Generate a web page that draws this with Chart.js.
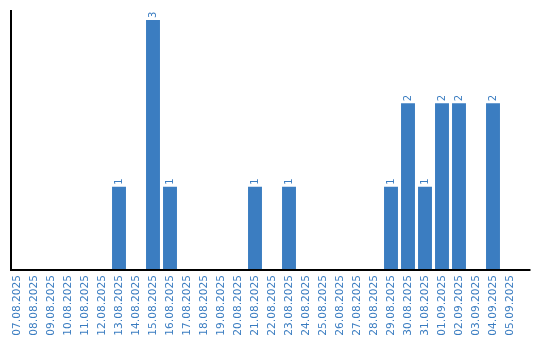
<!DOCTYPE html>
<html>
<head>
<meta charset="utf-8">
<script src="https://cdn.jsdelivr.net/npm/chart.js@4"></script>
<style>
  html, body { margin: 0; padding: 0; background: #fff; }
  #wrap { width: 540px; height: 340px; }
</style>
</head>
<body>
<div id="wrap"><canvas id="chart"></canvas></div>
<script>
let dates = ['07.08.2025', '08.08.2025', '09.08.2025', '10.08.2025', '11.08.2025', '12.08.2025',
  '13.08.2025', '14.08.2025', '15.08.2025', '16.08.2025', '17.08.2025', '18.08.2025',
  '19.08.2025', '20.08.2025', '21.08.2025', '22.08.2025', '23.08.2025', '24.08.2025',
  '25.08.2025', '26.08.2025', '27.08.2025', '28.08.2025', '29.08.2025', '30.08.2025',
  '31.08.2025', '01.09.2025', '02.09.2025', '03.09.2025', '04.09.2025', '05.09.2025'];
let counts = [0, 0, 0, 0, 0, 0,
  1, 0, 3, 1, 0, 0,
  0, 0, 1, 0, 1, 0,
  0, 0, 0, 0, 1, 2,
  1, 2, 2, 0, 2, 0];

let blue = '#3b7dc1';

// vertical value labels over each bar, skip zeros
let valueLabels = {
  id: 'valueLabels',
  afterDatasetsDraw(chart) {
    let ctx = chart.ctx;
    let meta = chart.getDatasetMeta(0);
    ctx.save();
    ctx.fillStyle = blue;
    ctx.font = '10px "DejaVu Sans"';
    ctx.textAlign = 'left';
    ctx.textBaseline = 'middle';
    meta.data.forEach((bar, i) => {
      if (!counts[i]) return;
      ctx.save();
      ctx.translate(bar.x, bar.y - 2);
      ctx.rotate(-Math.PI / 2);
      ctx.fillText(String(counts[i]), 0, 0);
      ctx.restore();
    });
    ctx.restore();
  }
};

// axis lines drawn by hand so the x axis runs past the last bar
let axisLines = {
  id: 'axisLines',
  afterDraw(chart) {
    let a = chart.chartArea;
    let ctx = chart.ctx;
    ctx.save();
    ctx.strokeStyle = '#000';
    ctx.lineWidth = 2;
    ctx.beginPath();
    ctx.moveTo(a.left + 2.5, a.top);
    ctx.lineTo(a.left + 2.5, a.bottom);
    ctx.lineTo(a.right + 12, a.bottom);
    ctx.stroke();
    ctx.restore();
  }
};

new Chart(document.getElementById('chart'), {
  type: 'bar',
  data: {
    labels: dates,
    datasets: [{
      data: counts,
      backgroundColor: blue,
      borderWidth: 0,
      barPercentage: 0.82,
      categoryPercentage: 1
    }]
  },
  options: {
    responsive: true,
    maintainAspectRatio: false,
    animation: false,
    layout: { padding: { left: 8.5, right: 21.5, top: 10, bottom: 0 } },
    plugins: {
      legend: { display: false },
      tooltip: { enabled: false }
    },
    scales: {
      x: {
        grid: { display: false, drawTicks: false },
        border: { display: false },
        afterFit(scale) { scale.height = 70; },
        ticks: {
          autoSkip: false,
          minRotation: 90,
          maxRotation: 90,
          padding: 5,
          color: blue,
          font: { family: 'DejaVu Sans', size: 10.6 }
        }
      },
      y: {
        display: false,
        min: 0,
        max: 3.12
      }
    }
  },
  plugins: [valueLabels, axisLines]
});
</script>
</body>
</html>
